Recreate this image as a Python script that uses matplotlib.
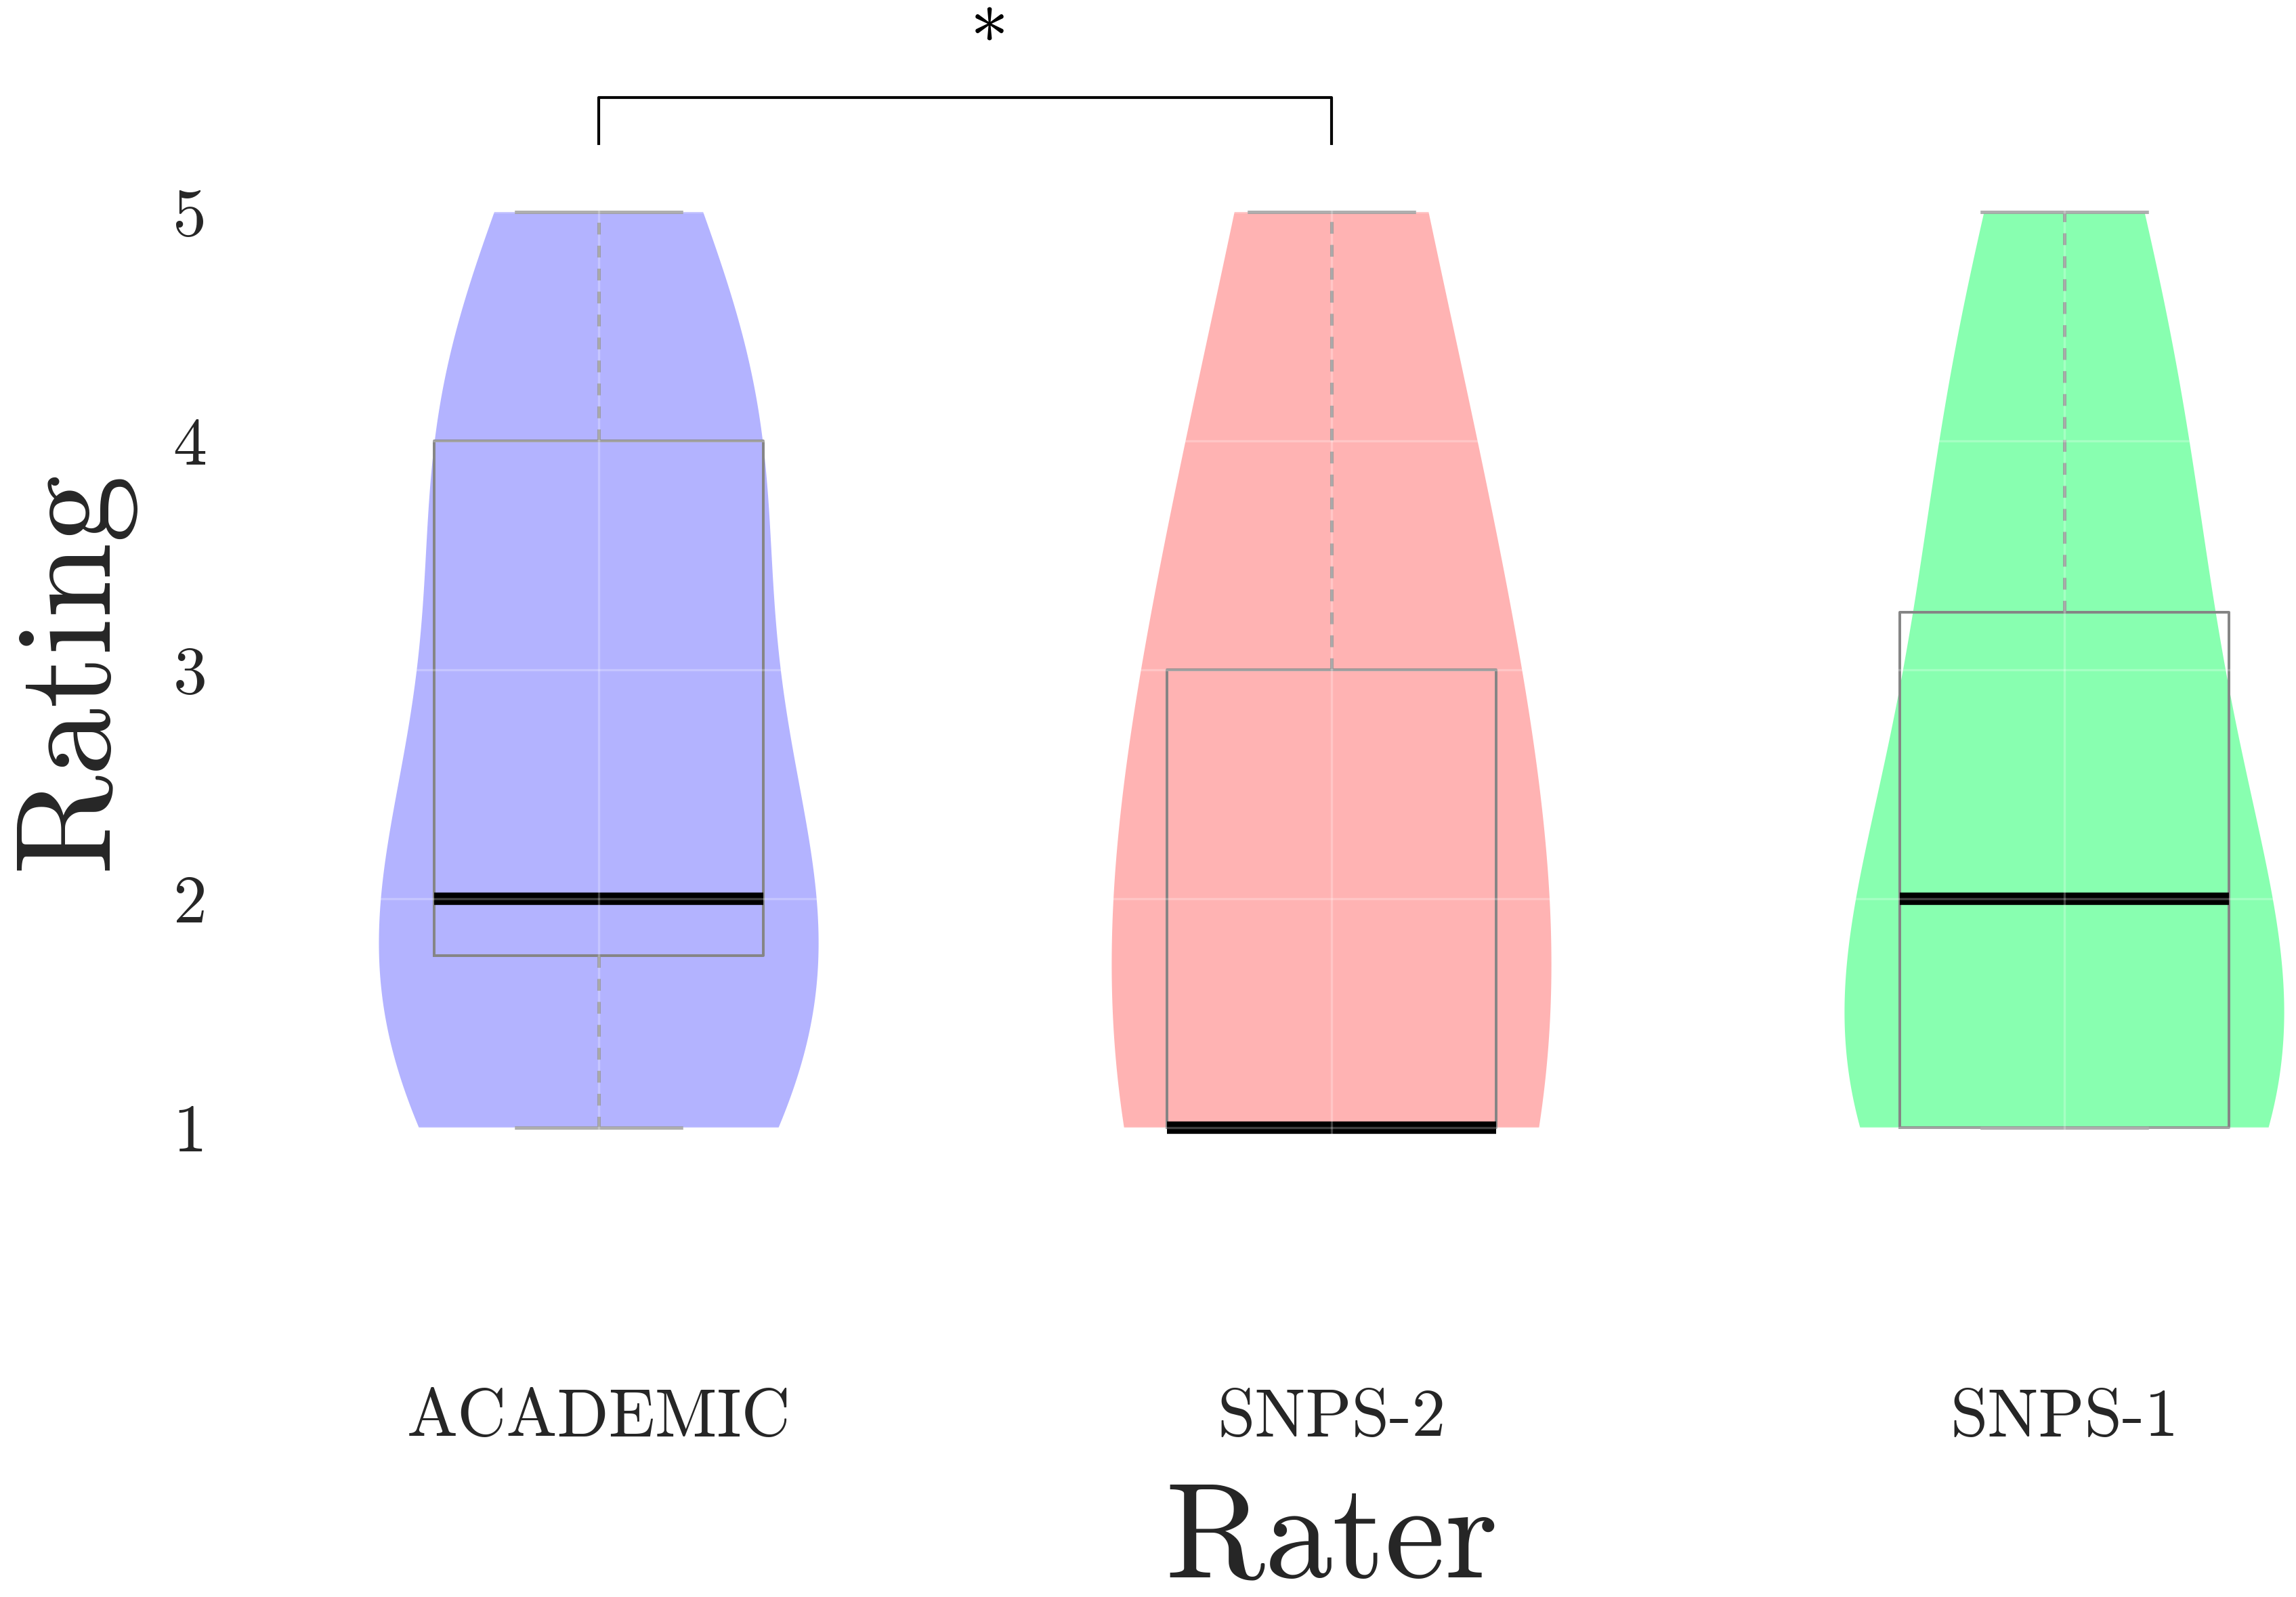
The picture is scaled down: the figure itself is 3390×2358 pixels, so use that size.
import numpy as np
import matplotlib
matplotlib.use('Agg')
import matplotlib.pyplot as plt

# ---- data ----
raters = ['ACADEMIC', 'SNPS-2', 'SNPS-1']
rating_levels = [1, 2, 3, 4, 5]
academic_counts = [5, 6, 2, 5, 2]
snps2_counts = [11, 0, 5, 2, 2]
snps1_counts = [8, 4, 3, 3, 2]
y_ticks = [1, 2, 3, 4, 5]
significance_label = '*'
bracket_pair = (0, 1)

# ---- style ----
colors = ['#B3B3FF', '#FFB3B3', '#88FFB0']
bandwidths = [0.649, 1.087, 0.70]
text_color = '#262626'

data = [np.repeat(rating_levels, c) for c in (academic_counts, snps2_counts, snps1_counts)]

plt.rcParams['font.family'] = 'cmr10'
plt.rcParams['axes.formatter.use_mathtext'] = True
plt.rcParams['text.color'] = text_color
plt.rcParams['axes.labelcolor'] = text_color
plt.rcParams['xtick.color'] = text_color
plt.rcParams['ytick.color'] = text_color

fig = plt.figure(figsize=(11.3, 7.86), dpi=300)
ax = fig.add_axes([0.1012, 0.1506, 0.9575, 0.860])
positions = np.arange(len(raters))

for i, d in enumerate(data):
    vp = ax.violinplot([d], positions=[positions[i]], widths=0.6, showextrema=False,
                       bw_method=bandwidths[i], points=200)
    for body in vp['bodies']:
        body.set_facecolor(colors[i])
        body.set_edgecolor('none')
        body.set_alpha(1)
        body.set_zorder(1)

ax.boxplot(data, positions=positions, widths=0.45, showfliers=False,
           boxprops=dict(color='#858585', lw=0.95),
           whiskerprops=dict(color='#8e8e8e', lw=1.1, linestyle=(0, (3.8, 3.6))),
           capprops=dict(color='#949494', lw=1.1),
           medianprops=dict(color='black', lw=4.4))

ax.set_xlim(-0.5, 2.5)
ax.set_ylim(0, 6)
ax.set_xticks(positions)
ax.set_xticklabels(raters)
ax.set_yticks(y_ticks)
ax.set_yticklabels([str(t) for t in y_ticks])
for s in ax.spines.values():
    s.set_visible(False)
ax.tick_params(axis='both', length=0, labelsize=24)
ax.tick_params(axis='x', pad=11.5)
ax.tick_params(axis='y', pad=9)
ax.set_axisbelow(False)
ax.grid(True, color='white', alpha=0.25, lw=0.8)

ax.set_xlabel('Rater', fontsize=48, labelpad=12)
ax.set_ylabel('Rating', fontsize=48, labelpad=14)

# significance bracket
a, b = bracket_pair
ax.plot([a, a, b, b], [5.3, 5.5, 5.5, 5.3], color='black', lw=1.0, clip_on=False, zorder=5)
ax.text((a + b) / 2 + 0.033, 5.64, significance_label, ha='center', va='baseline',
        fontsize=27, color='black', clip_on=False)

fig.savefig('out.png', dpi=300)
